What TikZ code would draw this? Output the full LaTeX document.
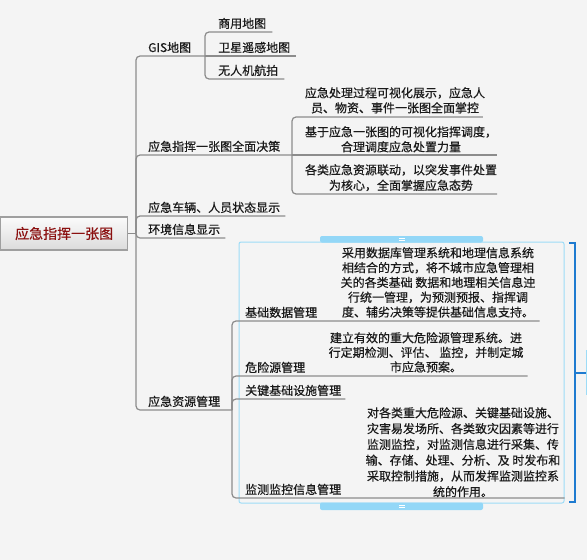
\documentclass[tikz,border=0pt]{standalone}
\usepackage{fontspec}
\setmainfont{Noto Sans CJK SC}[AutoFakeBold=0.5]
\definecolor{bg}{HTML}{F4F4F4}
\definecolor{lineg}{HTML}{8C8C8C}
\definecolor{txt}{HTML}{1A1A1A}
\definecolor{rootred}{HTML}{8B1010}
\definecolor{selblue}{HTML}{9DDCF7}
\definecolor{handle}{HTML}{93D7F7}
\definecolor{brblue}{HTML}{1F7BD0}
\begin{document}
\begin{tikzpicture}[x=1pt,y=-1pt,
  lbl/.style={anchor=base west, inner sep=0pt, font=\fontsize{12pt}{15pt}\selectfont\bfseries, text=txt},
  desc/.style={anchor=north, inner sep=0pt, align=center, text=txt},
  br/.style={draw=lineg, line width=1.2pt, rounded corners=4pt},
]
\useasboundingbox (0,0) rectangle (587,560);
\clip (0,0) rectangle (587,560);
\fill[bg] (0,0) rectangle (587,560);

% selection box and handles
\draw[selblue, line width=1pt, rounded corners=2pt] (239,242) rectangle (564,503);
\fill[handle, rounded corners=2pt] (320,236) rectangle (483,242.5);
\fill[handle, rounded corners=2pt] (320,502.5) rectangle (483,510);
\draw[white, line width=0.6pt] (399,238.3) -- (405,238.3) (399,240.3) -- (405,240.3);
\draw[white, line width=0.6pt] (399,505.3) -- (405,505.3) (399,507.3) -- (405,507.3);

% right bracket
\draw[brblue, line width=1.6pt] (569,243) -- (575,243) -- (575,502) -- (569,502);
\draw[brblue, line width=1.2pt] (575,373) -- (587,373);
\draw[selblue, line width=0.8pt, fill=white!60!selblue] (586,350) rectangle (592,394);

% root
\node[draw=gray!75, line width=1.3pt, top color=white!97!gray, bottom color=gray!28,
  minimum width=127pt, minimum height=33pt, inner sep=0pt, anchor=west,
  font=\fontsize{14pt}{16pt}\selectfont\bfseries, text=rootred] (root) at (0,233.5) {应急指挥一张图};

% level 1 labels
\node[lbl] (gis) at (148,52) {GIS地图};
\node[lbl] (dec) at (148,151) {应急指挥一张图全面决策};
\node[lbl] (veh) at (148,212) {应急车辆、人员状态显示};
\node[lbl] (env) at (148,234) {环境信息显示};
\node[lbl] (res) at (148,406) {应急资源管理};

% GIS children
\node[lbl] (g1) at (218,28) {商用地图};
\node[lbl] (g2) at (218,52) {卫星遥感地图};
\node[lbl] (g3) at (218,75) {无人机航拍};

% decision children
\node[desc, font=\fontsize{12pt}{15pt}\selectfont\bfseries] (d1) at (395,87) {应急处理过程可视化展示，应急人\\员、物资、事件一张图全面掌控};
\node[desc, font=\fontsize{12pt}{15pt}\selectfont\bfseries] (d2) at (401,126) {基于应急一张图的可视化指挥调度，\\合理调度应急处置力量};
\node[desc, font=\fontsize{12pt}{15.5pt}\selectfont\bfseries] (d3) at (401,164) {各类应急资源联动，以突发事件处置\\为核心，全面掌握应急态势};

% resource children
\node[lbl] (r1) at (245,317) {基础数据管理};
\node[lbl] (r2) at (245,372) {危险源管理};
\node[lbl] (r3) at (245,395) {关键基础设施管理};
\node[lbl] (r4) at (245,494) {监测监控信息管理};
\node[desc, font=\fontsize{12pt}{14.8pt}\selectfont\bfseries] (r1d) at (438,247) {采用数据库管理系统和地理信息系统\\相结合的方式，将不城市应急管理相\\关的各类基础 数据和地理相关信息迚\\行统一管理，为预测预报、指挥调\\度、辅劣决策等提供基础信息支持。};
\node[desc, font=\fontsize{12pt}{14.6pt}\selectfont\bfseries] (r2d) at (426,332) {建立有效的重大危险源管理系统。进\\行定期检测、评估、 监控，并制定城\\市应急预案。};
\node[desc, font=\fontsize{12pt}{15.8pt}\selectfont\bfseries] (r4d) at (463,407) {对各类重大危险源、关键基础设施、\\灾害易发场所、各类致灾因素等进行\\监测监控，对监测信息进行采集、传\\输、存储、处理、分析、及 时发布和\\采取控制措施，从而发挥监测监控系\\统的作用。};

% connectors
\coordinate (trunk) at (136,233.5);
\coordinate (gisJ) at (205,56);
\coordinate (decJ) at (292,155);
\coordinate (resJ) at (232,410);
\draw[br] (root.east) -- (trunk);
\draw[br] (trunk) |- (gisJ);
\draw[br] (trunk) |- (decJ);
\draw[br] (trunk) |- (veh.base east |- 0,216) -- ++(5,0);
\draw[br] (trunk) |- (env.base east |- 0,238) -- ++(5,0);
\draw[br] (trunk) |- (resJ);

\draw[br] (gisJ) |- (g1.base east |- 0,32) -- ++(6,0);
\draw[br] (gisJ) -- (g2.base east |- 0,56) -- ++(6,0);
\draw[br] (gisJ) |- (g3.base east |- 0,79) -- ++(6,0);

\draw[br] (decJ) |- (d1.east |- 0,117) -- ++(-4,0);
\draw[br] (decJ) -- (d2.east |- 0,155);
\draw[br] (decJ) |- (d3.east |- 0,194);

\draw[br] (resJ) |- (r1d.east |- 0,321) -- ++(2,0);
\draw[br] (resJ) |- (r2d.east |- 0,376) -- ++(3,0);
\draw[br] (resJ) |- (r3.base east |- 0,399) -- ++(3,0);
\draw[br] (resJ) |- (r4d.east |- 0,498) -- ++(3,0);
\end{tikzpicture}
\end{document}
